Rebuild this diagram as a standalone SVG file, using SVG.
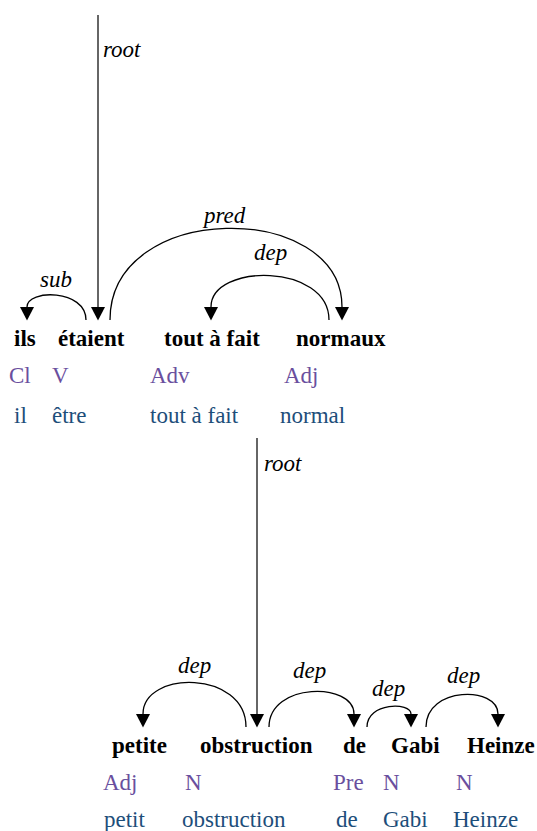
<svg xmlns="http://www.w3.org/2000/svg" width="537" height="831" viewBox="0 0 537 831">
  <style>
    text { font-family: 'Liberation Serif', 'Times New Roman', Tinos, 'DejaVu Serif', serif; font-size: 23px; }
    .word { font-weight: bold; fill: #000; }
    .pos { fill: #6a4f9e; }
    .lemma { fill: #1d4e7a; }
    .lbl { font-style: italic; fill: #000; }
    .arc { fill: none; stroke: #000; stroke-width: 1.3; marker-end: url(#head); }
    .root { fill: none; stroke: #333; stroke-width: 1.5; marker-end: url(#head); }
  </style>
  <defs>
    <marker id="head" markerUnits="userSpaceOnUse" markerWidth="14" markerHeight="14" refX="0" refY="6" orient="auto" viewBox="0 0 12 12">
      <path d="M0,0 L11.5,6 L0,12 Z" fill="#000"/>
    </marker>
  </defs>

  <g font-family="'Liberation Serif', 'Times New Roman', serif">
  <!-- sentence 1: ils étaient tout à fait normaux -->
  <g id="node-ils">
    <text class="word" x="14" y="346">ils</text>
    <text class="pos" x="9" y="383">Cl</text>
    <text class="lemma" x="14" y="423">il</text>
  </g>
  <g id="node-etaient">
    <text class="word" x="58" y="346">étaient</text>
    <text class="pos" x="52" y="383">V</text>
    <text class="lemma" x="52" y="423">être</text>
  </g>
  <g id="node-toutafait">
    <text class="word" x="164" y="346">tout à fait</text>
    <text class="pos" x="150" y="383">Adv</text>
    <text class="lemma" x="150" y="423">tout à fait</text>
  </g>
  <g id="node-normaux">
    <text class="word" x="296" y="346">normaux</text>
    <text class="pos" x="284" y="383">Adj</text>
    <text class="lemma" x="280" y="423">normal</text>
  </g>

  <!-- sentence 2: petite obstruction de Gabi Heinze -->
  <g id="node-petite">
    <text class="word" x="112" y="753">petite</text>
    <text class="pos" x="103" y="790">Adj</text>
    <text class="lemma" x="104" y="827">petit</text>
  </g>
  <g id="node-obstruction">
    <text class="word" x="200" y="753">obstruction</text>
    <text class="pos" x="185" y="790">N</text>
    <text class="lemma" x="182" y="827">obstruction</text>
  </g>
  <g id="node-de">
    <text class="word" x="343" y="753">de</text>
    <text class="pos" x="333" y="790">Pre</text>
    <text class="lemma" x="336" y="827">de</text>
  </g>
  <g id="node-gabi">
    <text class="word" x="391" y="753">Gabi</text>
    <text class="pos" x="383" y="790">N</text>
    <text class="lemma" x="383" y="827">Gabi</text>
  </g>
  <g id="node-heinze">
    <text class="word" x="467" y="753">Heinze</text>
    <text class="pos" x="456" y="790">N</text>
    <text class="lemma" x="453" y="827">Heinze</text>
  </g>

  <!-- dependency arcs and their labels -->
  <g id="connectors">
    <path class="root" d="M98,15 L98,307"/>
    <text class="lbl" x="103" y="57">root</text>

    <path class="arc" d="M86,320 C86,289 27,289 27,307"/>
    <text class="lbl" x="40" y="287">sub</text>

    <path class="arc" d="M110,320 C110,200 342,200 342,307"/>
    <text class="lbl" x="204" y="223">pred</text>

    <path class="arc" d="M329,320 C329,263 211,263 211,307"/>
    <text class="lbl" x="254" y="260">dep</text>

    <path class="root" d="M257,438 L257,714"/>
    <text class="lbl" x="264" y="471">root</text>

    <path class="arc" d="M246,727 C246,670 143,670 143,714"/>
    <text class="lbl" x="178" y="673">dep</text>

    <path class="arc" d="M269,727 C269,682 354,682 354,714"/>
    <text class="lbl" x="293" y="678">dep</text>

    <path class="arc" d="M367,727 C367,702 411,702 411,714"/>
    <text class="lbl" x="372" y="696">dep</text>

    <path class="arc" d="M426,727 C426,686 498,686 498,714"/>
    <text class="lbl" x="447" y="683">dep</text>
  </g>
  </g>
</svg>
